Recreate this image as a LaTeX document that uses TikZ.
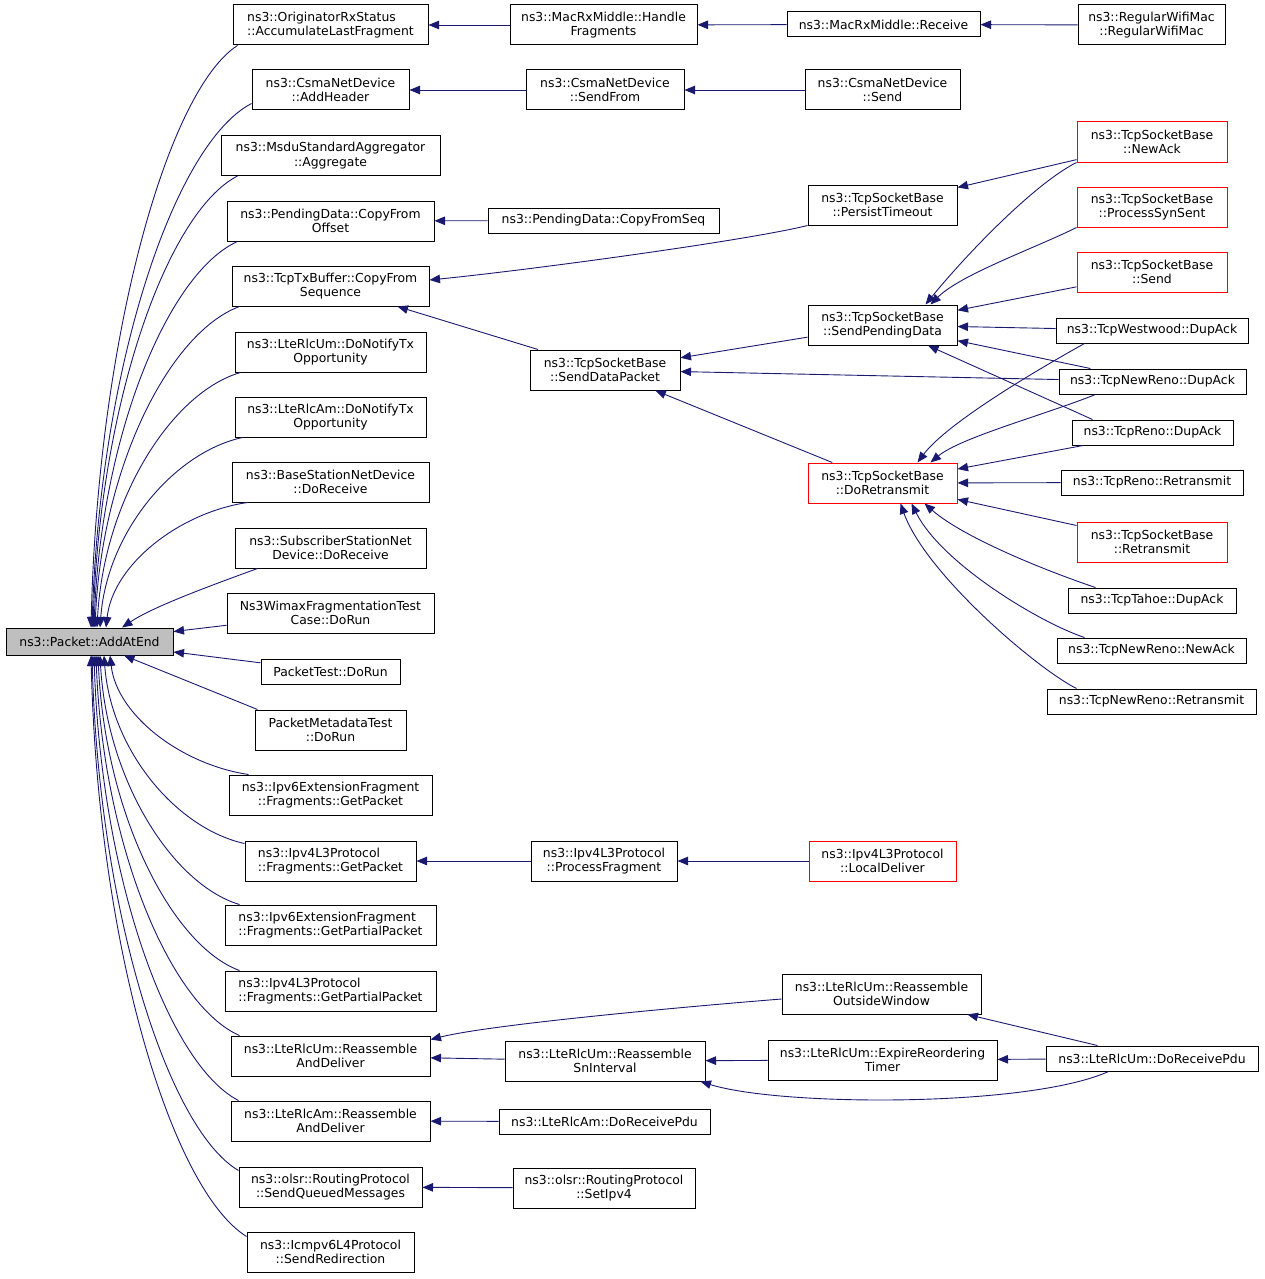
\documentclass[tikz,border=0pt]{standalone}
\usepackage{fontspec}
\newfontfamily\callfont{DejaVu Sans}
\usetikzlibrary{arrows.meta,calc}
\definecolor{calledge}{HTML}{191970}
\definecolor{curnode}{HTML}{BFBFBF}
\tikzset{
  fnbox/.style={draw=black, line width=1pt, fill=white, align=center, inner xsep=4pt, inner ysep=1pt,
    minimum height=40, font=\callfont\fontsize{12.4}{14.5}\selectfont},
  fnone/.style={fnbox, minimum height=25},
  fnred/.style={fnbox, draw=red},
  fnleft/.style={fnbox, align=left},
  callarrow/.style={draw=calledge, line width=0.9pt, {Triangle[length=10.5pt,width=8.5pt]}-},
}
\begin{document}
\begin{tikzpicture}[x=1pt,y=1pt,yscale=-1,xscale=1]
\useasboundingbox (0,0) rectangle (1264,1279);

% the function itself
\node[fnone, fill=curnode, minimum width=167, minimum height=27] (pkt) at (89.5,641.5) {ns3::Packet::AddAtEnd};

% direct callers
\node[fnleft, minimum width=195] (acc) at (330.5,25) {ns3::OriginatorRxStatus\\::AccumulateLastFragment};
\node[fnbox, minimum width=157] (addh) at (330.5,90) {ns3::CsmaNetDevice\\::AddHeader};
\node[fnbox, minimum width=219] (aggr) at (330.5,155.5) {ns3::MsduStandardAggregator\\::Aggregate};
\node[fnbox, minimum width=207] (cpyoff) at (330.5,221) {ns3::PendingData::CopyFrom\\Offset};
\node[fnbox, minimum width=197] (cpyseq) at (330.5,286) {ns3::TcpTxBuffer::CopyFrom\\Sequence};
\node[fnbox, minimum width=191] (umnotify) at (330.5,352) {ns3::LteRlcUm::DoNotifyTx\\Opportunity};
\node[fnbox, minimum width=191] (amnotify) at (330.5,417) {ns3::LteRlcAm::DoNotifyTx\\Opportunity};
\node[fnbox, minimum width=197] (bsrecv) at (330.5,482) {ns3::BaseStationNetDevice\\::DoReceive};
\node[fnbox, minimum width=191] (ssrecv) at (330.5,548) {ns3::SubscriberStationNet\\Device::DoReceive};
\node[fnbox, minimum width=207] (wimax) at (330.5,613) {Ns3WimaxFragmentationTest\\Case::DoRun};
\node[fnone, minimum width=139] (pkttest) at (330.5,671.5) {PacketTest::DoRun};
\node[fnbox, minimum width=151] (metatest) at (330.5,730) {PacketMetadataTest\\::DoRun};
\node[fnbox, minimum width=203] (v6get) at (330.5,795) {ns3::Ipv6ExtensionFragment\\::Fragments::GetPacket};
\node[fnleft, minimum width=171] (v4get) at (330.5,861) {ns3::Ipv4L3Protocol\\::Fragments::GetPacket};
\node[fnleft, minimum width=211] (v6part) at (330.5,925) {ns3::Ipv6ExtensionFragment\\::Fragments::GetPartialPacket};
\node[fnleft, minimum width=211] (v4part) at (330.5,991) {ns3::Ipv4L3Protocol\\::Fragments::GetPartialPacket};
\node[fnbox, minimum width=199] (umreasm) at (330.5,1056) {ns3::LteRlcUm::Reassemble\\AndDeliver};
\node[fnbox, minimum width=199] (amreasm) at (330.5,1121) {ns3::LteRlcAm::Reassemble\\AndDeliver};
\node[fnbox, minimum width=183] (sendq) at (330.5,1187) {ns3::olsr::RoutingProtocol\\::SendQueuedMessages};
\node[fnbox, minimum width=167] (redir) at (330.5,1252) {ns3::Icmpv6L4Protocol\\::SendRedirection};

% second level
\node[fnbox, minimum width=187] (handle) at (603.5,25) {ns3::MacRxMiddle::Handle\\Fragments};
\node[fnbox, minimum width=158] (sendfrom) at (605,90) {ns3::CsmaNetDevice\\::SendFrom};
\node[fnone, minimum width=231] (cpyfromseq) at (603.5,220.5) {ns3::PendingData::CopyFromSeq};
\node[fnbox, minimum width=150] (senddata) at (605,370) {ns3::TcpSocketBase\\::SendDataPacket};
\node[fnbox, minimum width=146] (procfrag) at (604,861) {ns3::Ipv4L3Protocol\\::ProcessFragment};
\node[fnbox, minimum width=200] (snint) at (605,1061) {ns3::LteRlcUm::Reassemble\\SnInterval};
\node[fnone, minimum width=211] (amrecv) at (604.5,1121.5) {ns3::LteRlcAm::DoReceivePdu};
\node[fnbox, minimum width=182] (setipv4) at (604,1188) {ns3::olsr::RoutingProtocol\\::SetIpv4};

% third level
\node[fnone, minimum width=193] (mrecv) at (883.5,24.5) {ns3::MacRxMiddle::Receive};
\node[fnbox, minimum width=155] (csend) at (882.5,90) {ns3::CsmaNetDevice\\::Send};
\node[fnbox, minimum width=149] (persist) at (882.5,205) {ns3::TcpSocketBase\\::PersistTimeout};
\node[fnbox, minimum width=149] (sendpend) at (882.5,325) {ns3::TcpSocketBase\\::SendPendingData};
\node[fnred, minimum width=149] (doretx) at (882.5,483) {ns3::TcpSocketBase\\::DoRetransmit};
\node[fnred, minimum width=147] (localdlv) at (882.5,861) {ns3::Ipv4L3Protocol\\::LocalDeliver};
\node[fnbox, minimum width=199] (outwin) at (881.5,994) {ns3::LteRlcUm::Reassemble\\OutsideWindow};
\node[fnbox, minimum width=229] (expire) at (882.5,1060) {ns3::LteRlcUm::ExpireReordering\\Timer};

% fourth level
\node[fnbox, minimum width=147] (regwifi) at (1151.5,25) {ns3::RegularWifiMac\\::RegularWifiMac};
\node[fnred, minimum width=150] (newack) at (1152,142) {ns3::TcpSocketBase\\::NewAck};
\node[fnred, minimum width=150] (synsent) at (1152,207) {ns3::TcpSocketBase\\::ProcessSynSent};
\node[fnred, minimum width=150] (tsend) at (1152,272) {ns3::TcpSocketBase\\::Send};
\node[fnone, minimum width=192] (westdup) at (1152,330.5) {ns3::TcpWestwood::DupAck};
\node[fnone, minimum width=187] (nrdup) at (1152.5,381.5) {ns3::TcpNewReno::DupAck};
\node[fnone, minimum width=161] (renodup) at (1152.5,432.5) {ns3::TcpReno::DupAck};
\node[fnone, minimum width=182] (renoretx) at (1152,482.5) {ns3::TcpReno::Retransmit};
\node[fnred, minimum width=150] (tsbretx) at (1152,542) {ns3::TcpSocketBase\\::Retransmit};
\node[fnone, minimum width=168] (tahoedup) at (1152,600.5) {ns3::TcpTahoe::DupAck};
\node[fnone, minimum width=189] (nrnewack) at (1151.5,650.5) {ns3::TcpNewReno::NewAck};
\node[fnone, minimum width=209] (nrretx) at (1151.5,701.5) {ns3::TcpNewReno::Retransmit};
\node[fnone, minimum width=212] (umrecv) at (1152,1058.5) {ns3::LteRlcUm::DoReceivePdu};

% calls into AddAtEnd, upper half
\draw[callarrow] ($(pkt.north)+(1.5,0)$) .. controls +(7,-290) and +(-70,45) .. ($(acc.south west)+(5,0)$);
\draw[callarrow] ($(pkt.north)+(2.5,0)$) .. controls +(8,-262) and +(-77,40) .. ($(addh.south west)+(0,-7)$);
\draw[callarrow] ($(pkt.north)+(3.5,0)$) .. controls +(7,-226) and +(-70,36) .. ($(aggr.south west)+(17,0)$);
\draw[callarrow] ($(pkt.north)+(4.5,0)$) .. controls +(7,-193) and +(-69,31) .. ($(cpyoff.south west)+(11,0)$);
\draw[callarrow] ($(pkt.north)+(5.5,0)$) .. controls +(7,-161) and +(-70,26) .. ($(cpyseq.south west)+(8,0)$);
\draw[callarrow] ($(pkt.north)+(7.5,0)$) .. controls +(7,-128) and +(-69,20) .. ($(umnotify.south west)+(6,0)$);
\draw[callarrow] ($(pkt.north)+(10.5,0)$) .. controls +(7,-95) and +(-69,15) .. ($(amnotify.south west)+(8,0)$);
\draw[callarrow] ($(pkt.north)+(16.5,0)$) .. controls +(7,-63) and +(-68,10) .. ($(bsrecv.south west)+(16,0)$);
\draw[callarrow] ($(pkt.north)+(32.5,0)$) .. controls +(30,-20) and +(-55,20) .. ($(ssrecv.south west)+(23,0)$);
\draw[callarrow] (pkt) -- (wimax);
\draw[callarrow] (pkt) -- (pkttest);
\draw[callarrow] (pkt) -- ($(metatest.north west)+(3,0)$);

% calls into AddAtEnd, lower half
\draw[callarrow] ($(pkt.south)+(20.5,0)$) .. controls +(7,60) and +(-67,-10) .. ($(v6get.north west)+(20,0)$);
\draw[callarrow] ($(pkt.south)+(14.5,0)$) .. controls +(7,95) and +(-68,-15) .. ($(v4get.north west)+(0,3)$);
\draw[callarrow] ($(pkt.south)+(10.5,0)$) .. controls +(7,125) and +(-67,-20) .. ($(v6part.north west)+(15,0)$);
\draw[callarrow] ($(pkt.south)+(8.5,0)$) .. controls +(7,158) and +(-68,-25) .. ($(v4part.north west)+(15,0)$);
\draw[callarrow] ($(pkt.south)+(6.5,0)$) .. controls +(7,190) and +(-69,-30) .. ($(umreasm.north west)+(9,0)$);
\draw[callarrow] ($(pkt.south)+(4.5,0)$) .. controls +(7,223) and +(-70,-36) .. ($(amreasm.north west)+(8,0)$);
\draw[callarrow] ($(pkt.south)+(2.5,0)$) .. controls +(7,258) and +(-70,-41) .. ($(sendq.north west)+(0,4)$);
\draw[callarrow] ($(pkt.south)+(1.5,0)$) .. controls +(7,292) and +(-75,-47) .. ($(redir.north west)+(0,5)$);

% upper chains
\draw[callarrow] (acc) -- (handle);
\draw[callarrow] (handle) -- (mrecv);
\draw[callarrow] (mrecv) -- (regwifi);
\draw[callarrow] (addh) -- (sendfrom);
\draw[callarrow] (sendfrom) -- (csend);
\draw[callarrow] (cpyoff) -- (cpyfromseq);
\draw[callarrow] ($(cpyseq.east)+(0,-6)$) .. controls +(100,-10) and +(-60,15) .. (persist.south west);
\draw[callarrow] (cpyseq) -- (senddata);

% tcp socket
\draw[callarrow] (senddata) -- (sendpend);
\draw[callarrow] (senddata) -- (doretx);
\draw[callarrow] (senddata) -- (nrdup);
\draw[callarrow] (persist) -- (newack);
\draw[callarrow] ($(sendpend.north)+(43,0)$) .. controls +(45,-55) and +(-40,20) .. (newack.south west);
\draw[callarrow] ($(sendpend.north)+(48,0)$) .. controls +(30,-30) and +(-40,20) .. (synsent.south west);
\draw[callarrow] (sendpend) -- (tsend);
\draw[callarrow] (sendpend) -- (westdup);
\draw[callarrow] (sendpend) -- (nrdup);
\draw[callarrow] (sendpend) -- ($(renodup.north west)+(21,0)$);
\draw[callarrow] ($(doretx.north)+(35,0)$) .. controls +(30,-40) and +(-45,25) .. ($(westdup.south west)+(29,0)$);
\draw[callarrow] ($(doretx.north)+(48,0)$) .. controls +(30,-25) and +(-50,20) .. ($(nrdup.south west)+(37,0)$);
\draw[callarrow] (doretx) -- (renodup);
\draw[callarrow] (doretx) -- (renoretx);
\draw[callarrow] (doretx) -- (tsbretx);
\draw[callarrow] ($(doretx.south)+(42,0)$) .. controls +(40,35) and +(-45,-15) .. ($(tahoedup.north west)+(28,0)$);
\draw[callarrow] ($(doretx.south)+(29,0)$) .. controls +(30,60) and +(-45,-15) .. ($(nrnewack.north west)+(28,0)$);
\draw[callarrow] ($(doretx.south)+(18,0)$) .. controls +(25,70) and +(-40,-20) .. ($(nrretx.north west)+(30,0)$);

% lower chains
\draw[callarrow] (v4get) -- (procfrag);
\draw[callarrow] (procfrag) -- (localdlv);
\draw[callarrow] ($(umreasm.north east)+(0,4)$) .. controls +(60,-15) and +(-100,8) .. ($(outwin.west)+(0,5)$);
\draw[callarrow] (umreasm) -- (snint);
\draw[callarrow] (snint) -- (expire);
\draw[callarrow] (expire) -- (umrecv);
\draw[callarrow] (outwin) -- (umrecv);
\draw[callarrow] ($(snint.south east)+(-5,0)$) .. controls +(80,25) and +(-80,36) .. ($(umrecv.south west)+(63,0)$);
\draw[callarrow] (amreasm) -- (amrecv);
\draw[callarrow] (sendq) -- (setipv4);

\end{tikzpicture}
\end{document}
